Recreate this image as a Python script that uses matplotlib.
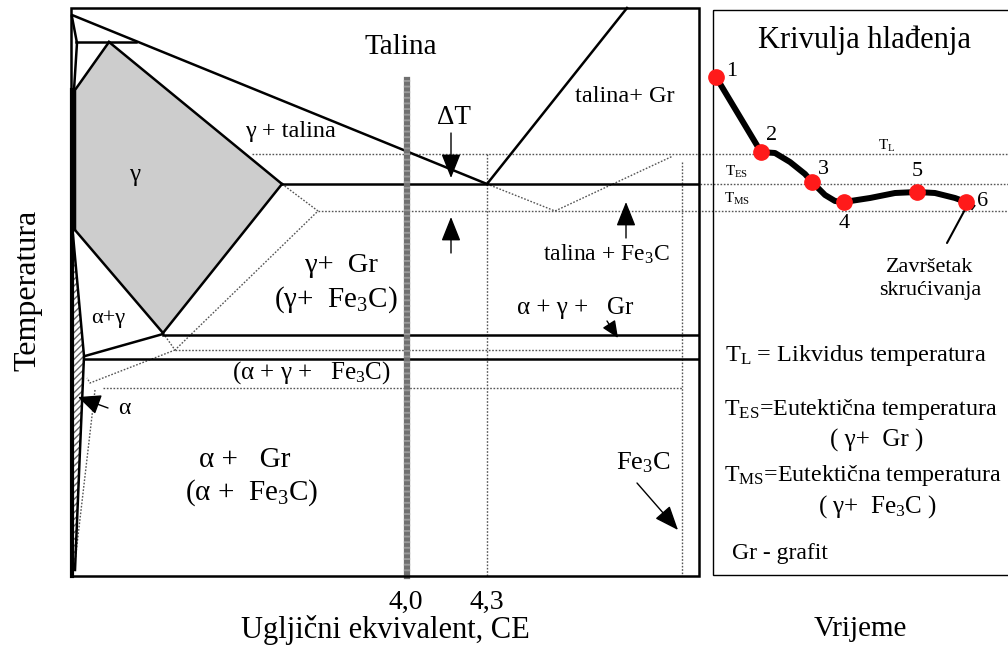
import matplotlib.pyplot as plt
import numpy as np

plt.rcParams['font.family'] = ['Liberation Serif', 'DejaVu Serif']
plt.rcParams['mathtext.fontset'] = 'custom'
plt.rcParams['mathtext.rm'] = 'Liberation Serif'
plt.rcParams['mathtext.it'] = 'Liberation Serif:italic'

# ---- phase diagram (drawing units: x ~ carbon equivalent, y ~ temperature, downward) ----
liquidus_x = [72, 487]
liquidus_y = [15, 184]
solidus_x = [109, 282]
solidus_y = [42, 184]
gr_liquidus_x = [487, 627]
gr_liquidus_y = [184, 8]
delta_x = [72, 77, 74]
delta_y = [17, 43, 90]
peritectic_x = [76, 136]
peritectic_y = [42, 42]
eutectic_x = [282, 698]
eutectic_y = [184, 184]
gamma_x = [75, 109, 282, 163, 75]
gamma_y = [90, 42, 184, 333, 230]
eutectoid_hi_x = [163, 698]
eutectoid_hi_y = [335, 335]
eutectoid_lo_x = [85, 698]
eutectoid_lo_y = [359, 359]
ag_line_x = [85, 163]
ag_line_y = [356, 334]
alpha_x = [72, 73, 78, 84, 80, 75, 72]
alpha_y = [230, 235, 290, 356, 450, 570, 570]

# metastable (dotted) lines
meta_gamma_x = [282, 318, 175, 163]
meta_gamma_y = [184, 211, 350, 333]
meta_eut_x = [487, 555, 673]
meta_eut_y = [184, 211, 156]
meta_hi_x = [175, 682]
meta_hi_y = [350, 350]
meta_lo_x = [103, 682]
meta_lo_y = [388, 388]
meta_ag_x = [175, 90, 87]
meta_ag_y = [350, 383, 378]
meta_alpha_x = [95, 75]
meta_alpha_y = [390, 562]
TL_x = [252, 1008]
TL_y = [154, 154]
TMS_x = [318, 1008]
TMS_y = [211, 211]
TES_x = [700, 1008]
TES_y = [184, 184]
ce43_x = [487, 487]
ce43_y = [154, 576]
fe3c_x = [682, 682]
fe3c_y = [162, 576]
ce40_x = [407, 407]
ce40_y = [80, 576]

# ---- cooling curve ----
cool_t = [716, 761, 775, 790, 805, 812, 825, 835, 844, 870, 895, 917, 935, 955, 966, 974]
cool_T = [77, 152, 153, 162, 174, 182, 195, 201, 202, 198, 193, 192, 193, 198, 202, 208]
point_t = [716, 761, 812, 844, 917, 966]
point_T = [77, 152, 182, 202, 192, 202]
point_lbl = ['1', '2', '3', '4', '5', '6']
lbl_t = [732, 772, 823, 844, 917, 983]
lbl_T = [71, 136, 169, 224, 172, 201]

fig = plt.figure(figsize=(10.08, 6.45), dpi=100)
ax = fig.add_axes([0, 0, 1, 1])
ax.set_xlim(0, 1008)
ax.set_ylim(645, 0)
ax.axis('off')

# frames
ax.add_patch(plt.Rectangle((71, 8), 628, 568, fill=False, lw=1.8, ec='black', zorder=5))
ax.add_patch(plt.Rectangle((713, 10), 300, 565, fill=False, lw=1.0, ec='black', zorder=5))

# regions
ax.fill(gamma_x, gamma_y, color='#cdcdcd', zorder=1)
ax.fill(alpha_x, alpha_y, facecolor='white', edgecolor='#666666', hatch='/////', lw=0, zorder=1)

solid = dict(color='black', lw=1.8, zorder=3)
for xs, ys in [(liquidus_x, liquidus_y), (solidus_x, solidus_y), (gr_liquidus_x, gr_liquidus_y),
               (delta_x, delta_y), (peritectic_x, peritectic_y), (eutectic_x, eutectic_y),
               (eutectoid_hi_x, eutectoid_hi_y), (eutectoid_lo_x, eutectoid_lo_y),
               (ag_line_x, ag_line_y), (alpha_x[1:6], alpha_y[1:6])]:
    ax.plot(xs, ys, **solid)
ax.plot(gamma_x[4:] + gamma_x[:2], gamma_y[4:] + gamma_y[:2], **solid)
ax.plot(gamma_x[2:4], gamma_y[2:4], **solid)
ax.plot(gamma_x[3:5], gamma_y[3:5], **solid)
ax.plot([72, 72], [90, 576], color='black', lw=3, zorder=3)

dotted = dict(color='#555555', lw=1.0, ls=(0, (1.2, 1.2)), zorder=2)
for xs, ys in [(meta_gamma_x, meta_gamma_y), (meta_eut_x, meta_eut_y), (meta_hi_x, meta_hi_y),
               (meta_lo_x, meta_lo_y), (meta_ag_x, meta_ag_y), (meta_alpha_x, meta_alpha_y),
               (TL_x, TL_y), (TMS_x, TMS_y), (TES_x, TES_y), (ce43_x, ce43_y), (fe3c_x, fe3c_y)]:
    ax.plot(xs, ys, **dotted)

ax.plot(ce40_x, ce40_y, color='#707070', lw=4.5, zorder=4)
ax.plot(ce40_x, ce40_y, color='#9a9a9a', lw=4.5, ls=(0, (0.3, 0.6)), zorder=4)

# arrows
head = dict(arrowstyle='-|>,head_length=1.0,head_width=0.4', color='black', lw=1.0,
            shrinkA=0, shrinkB=0, mutation_scale=15)
ax.annotate('', xy=(451, 178), xytext=(451, 133), arrowprops=head)
ax.annotate('', xy=(451, 217), xytext=(451, 253), arrowprops=head)
ax.annotate('', xy=(626, 202), xytext=(626, 238), arrowprops=head)
ax.annotate('', xy=(678, 530), xytext=(637, 483), arrowprops=head)
ax.annotate('', xy=(618, 338), xytext=(607, 321),
            arrowprops=dict(arrowstyle='-|>,head_length=0.8,head_width=0.35', color='black', lw=1.0,
                            shrinkA=0, shrinkB=0, mutation_scale=13))
ax.annotate('', xy=(78, 397), xytext=(108, 408),
            arrowprops=dict(arrowstyle='-|>,head_length=1.0,head_width=0.45', color='black', lw=1.0,
                            shrinkA=0, shrinkB=0, mutation_scale=14))
ax.annotate('', xy=(968, 204), xytext=(947, 243),
            arrowprops=dict(arrowstyle='-', color='black', lw=1.5, shrinkA=0, shrinkB=0))

# cooling curve
ax.plot(cool_t, cool_T, color='black', lw=4.3, solid_capstyle='butt', zorder=6)
ax.plot(point_t, point_T, 'o', color='#ff1a1a', ms=11, zorder=7)
for s, x, y in zip(point_lbl, lbl_t, lbl_T):
    ax.text(x, y, s, fontsize=16, ha='center', va='center', zorder=8)

# labels in diagram
ax.text(401, 47, 'Talina', fontsize=21, ha='center', va='center')
ax.text(290, 132, r'γ + talina', fontsize=17.5, ha='center', va='center')
ax.text(135, 175, 'γ', fontsize=18, ha='center', va='center')
ax.text(625, 97, 'talina+ Gr', fontsize=17.5, ha='center', va='center')
ax.text(454, 117, 'ΔT', fontsize=19.5, ha='center', va='center')
ax.text(606, 254, r'talina + Fe$_3$C', fontsize=17, ha='center', va='center')
ax.text(341, 266, 'γ+  Gr', fontsize=20.5, ha='center', va='center')
ax.text(336, 300, r'(γ+  Fe$_3$C)', fontsize=21, ha='center', va='center')
ax.text(108, 318, 'α+γ', fontsize=16, ha='center', va='center')
ax.text(575, 308, 'α + γ +   Gr', fontsize=18, ha='center', va='center')
ax.text(311, 373, r'(α + γ +   Fe$_3$C)', fontsize=18, ha='center', va='center')
ax.text(124, 408, 'α', fontsize=17, ha='center', va='center')
ax.text(245, 460, 'α +   Gr', fontsize=21, ha='center', va='center')
ax.text(252, 493, r'(α +  Fe$_3$C)', fontsize=21, ha='center', va='center')
ax.text(643, 463, r'Fe$_3$C', fontsize=19, ha='center', va='center')

# right panel text
ax.text(865, 40, 'Krivulja hlađenja', fontsize=22, ha='center', va='center')
ax.text(887, 146, r'T$_{\rm L}$', fontsize=11, ha='center', va='center')
ax.text(737, 172, r'T$_{\rm ES}$', fontsize=11, ha='center', va='center')
ax.text(737, 199, r'T$_{\rm MS}$', fontsize=11, ha='center', va='center')
ax.text(930, 267, 'Završetak', fontsize=16, ha='center', va='center')
ax.text(930, 291, 'skrućivanja', fontsize=16, ha='center', va='center')
ax.text(725, 355, r'T$_{\rm L}$ = Likvidus temperatura', fontsize=17.5, ha='left', va='center')
ax.text(724, 410, r'T$_{\rm ES}$=Eutektična temperatura', fontsize=17.3, ha='left', va='center')
ax.text(877, 440, '( γ+  Gr )', fontsize=18, ha='center', va='center')
ax.text(724, 475, r'T$_{\rm MS}$=Eutektična temperatura', fontsize=17.3, ha='left', va='center')
ax.text(877, 507, r'( γ+  Fe$_3$C )', fontsize=18, ha='center', va='center')
ax.text(732, 553, 'Gr - grafit', fontsize=17, ha='left', va='center')

# axis labels and ticks
ax.text(406, 602, '4,0', fontsize=20, ha='center', va='center')
ax.text(487, 602, '4,3', fontsize=20, ha='center', va='center')
ax.text(385, 630, 'Ugljični ekvivalent, CE', fontsize=22, ha='center', va='center')
ax.text(860, 629, 'Vrijeme', fontsize=21, ha='center', va='center')
ax.text(28, 290, 'Temperatura', fontsize=23, ha='center', va='center', rotation=90)

fig.savefig('out.png', dpi=100)
